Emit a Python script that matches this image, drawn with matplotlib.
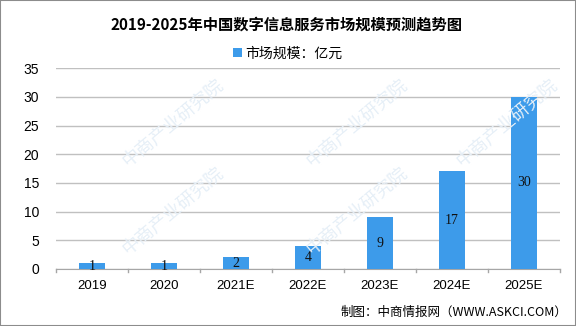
import matplotlib
matplotlib.use('Agg')
import matplotlib.pyplot as plt
from matplotlib.patches import Rectangle

years = ['2019', '2020', '2021E', '2022E', '2023E', '2024E', '2025E']
values = [1, 1, 2, 4, 9, 17, 30]
yticks = [0, 5, 10, 15, 20, 25, 30, 35]

cjk = ['Noto Sans CJK SC', 'DejaVu Sans']
plt.rcParams['font.family'] = cjk

fig = plt.figure(figsize=(5.76, 3.26), dpi=100)
ax = fig.add_axes([0.097, 0.175, 0.875, 0.616])

# faint watermarks, kept inside the figure
for (wx, wy) in [(0.30, 0.62), (0.30, 0.35), (0.62, 0.62), (0.62, 0.35), (0.88, 0.62)]:
    fig.text(wx, wy, '中商产业研究院', rotation=40, fontsize=13, color='#e6eff7',
             ha='center', va='center', zorder=0)

x = range(len(years))
ax.bar(x, values, width=0.36, color='#3d9bea', zorder=3, label='市场规模：亿元')
for i, v in enumerate(values):
    ax.text(i, v / 2, str(v), ha='center', va='center', fontsize=10,
            family='Liberation Serif', color='#111111', zorder=4)

ax.set_xlim(-0.5, len(years) - 0.5)
ax.set_ylim(0, 35)
ax.set_yticks(yticks)
ax.set_xticks(list(x))
ax.set_xticklabels(years)
ax.yaxis.grid(True, color='#c0c0c0', linewidth=1, zorder=0)
ax.set_axisbelow(True)
for s in ['top', 'right', 'left']:
    ax.spines[s].set_visible(False)
ax.spines['bottom'].set_color('#a6a6a6')
ax.tick_params(axis='y', length=0, labelsize=10, pad=12)
ax.tick_params(axis='x', length=0, labelsize=9.5, pad=8)
for lbl in ax.get_xticklabels() + ax.get_yticklabels():
    lbl.set_family(['Liberation Sans', 'DejaVu Sans'])
ax.patch.set_alpha(0)
# category separator ticks
for b in [i - 0.5 for i in range(len(years) + 1)]:
    ax.plot([b, b], [0, -0.6], color='#a6a6a6', lw=1, clip_on=False)

fig.text(0.497, 0.925, '2019-2025年中国数字信息服务市场规模预测趋势图', ha='center', va='center',
         fontsize=11, fontweight='bold')
fig.legend(loc='center', bbox_to_anchor=(0.5, 0.835), frameon=False, fontsize=10,
           handlelength=0.6, handleheight=0.6, handletextpad=0.3)
fig.text(0.985, 0.042, '制图：中商情报网（WWW.ASKCI.COM）', ha='right', va='center', fontsize=9)

fig.patches.append(Rectangle((0, 0), 1, 1, transform=fig.transFigure, fill=False,
                             edgecolor='#8c8c8c', lw=1.5))

plt.savefig('out.png', dpi=100)
plt.close()
